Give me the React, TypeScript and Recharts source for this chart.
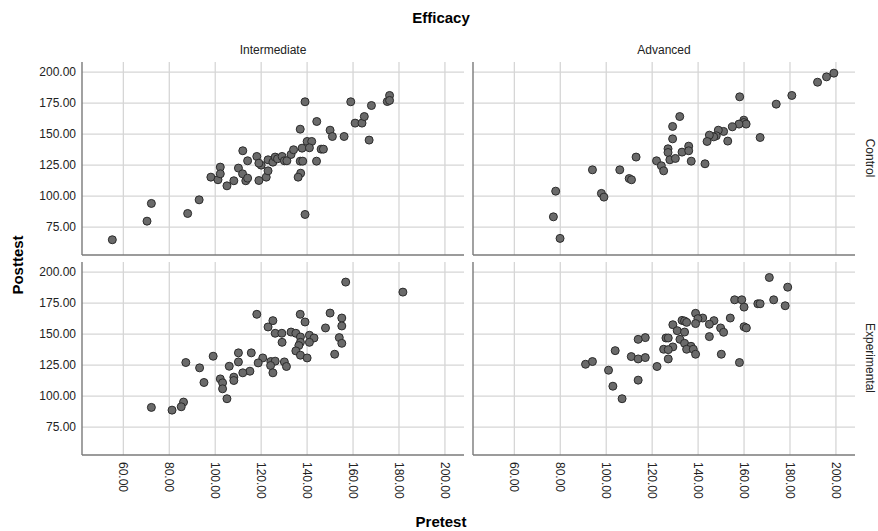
import React from "react";
import {
  ScatterChart,
  Scatter,
  XAxis,
  YAxis,
  ReferenceLine,
} from "recharts";

// Pretest / Posttest pairs per panel
const intermediateControlPre = [
  55.2, 70.3, 72.2, 88, 93, 98.1, 101.2, 102.2, 102.2, 105.1, 108.1, 110.1,
  112, 111.9, 113.3, 114.1, 114.1, 118.1, 119, 120, 119, 122.2, 123, 123,
  125.1, 126.1, 127.1, 129.1, 130.1, 131.2, 133, 134.1, 137, 137.8, 137,
  138.1, 137.2, 136.1, 139.1, 139.1, 140, 142, 141, 144.2, 144.1, 146.1,
  147.1, 150, 151, 156.1, 159, 160.9, 163.9, 164.9, 167, 168, 174.9, 175.9,
  175.9,
];
const intermediateControlPost = [
  64.8, 79.8, 94.1, 86, 97, 115.3, 113.2, 123.4, 118, 108.3, 112.4, 122.6,
  136.6, 118, 112.4, 114.5, 128.5, 132, 112.6, 125, 126.6, 115.3, 120.4,
  129.3, 127.4, 131.5, 130.1, 132, 128.5, 128.5, 133.6, 137.4, 154, 138.7,
  128.2, 128.2, 118.5, 115.3, 176.1, 85.2, 144.1, 144.1, 139, 160.2, 128.2,
  137.9, 137.9, 153.2, 148.1, 148.1, 176.1, 158.9, 158.9, 164.2, 145.2,
  173.1, 176.3, 181.2, 177.2,
];

const advancedControlPre = [
  199.1, 195.9, 192, 180.8, 174, 158.1, 159.9, 159.9, 160.9, 157.8, 154.9,
  167, 151.1, 148.8, 147.9, 146.8, 144.9, 143.9, 152.9, 143, 132, 128.9,
  128.9, 126.9, 126.9, 127.7, 130.1, 133, 135.9, 135.9, 137, 121.9, 124, 125,
  113, 105.9, 110, 111, 94, 97.9, 99, 78, 77, 79.9,
];
const advancedControlPost = [
  199.2, 196.2, 191.9, 181.2, 174.2, 180.1, 161.3, 159.4, 158.1, 158.1, 155.9,
  147.3, 152.2, 153.2, 148.7, 147.8, 149.2, 144.1, 144.4, 126.1, 164.2, 156.2,
  146.2, 138.2, 135.2, 129.3, 130.4, 135.5, 140.3, 136.6, 128.2, 128.5, 124.5,
  120.4, 131.5, 121.2, 114.2, 113.2, 121.2, 102.2, 99.2, 104, 83.3, 65.9,
];

const intermediateExperimentalPre = [
  156.8, 181.7, 118.1, 125.1, 123, 137, 139.1, 150, 155.1, 155.1, 148, 126.1,
  129, 133, 135.1, 137.1, 141, 143, 154, 155.1, 141, 137.1, 136.4, 129.1,
  135.1, 137.1, 140, 152, 120.7, 118.7, 115.7, 110.1, 110.1, 106.1, 124.2,
  126.1, 130.1, 131, 124.1, 125.1, 115.1, 112, 108.1, 108.1, 102.2, 103.2,
  103.2, 105.1, 99.1, 93.2, 87.2, 95.1, 86.2, 85.2, 81.2, 72.2,
];
const intermediateExperimentalPost = [
  192, 183.9, 166, 160.9, 155.8, 166, 159.8, 167, 163, 156.6, 155, 150.7,
  150.7, 151.7, 150.7, 147.7, 149.1, 146.9, 147.2, 142.6, 143.4, 143.4, 140.8,
  143.4, 136.5, 133, 130.8, 133.8, 130.8, 126.8, 134.9, 134.9, 127.6, 124.1,
  127.9, 128.2, 127.6, 123.9, 124.7, 118.8, 120.1, 118.8, 115.3, 112.6, 113.9,
  110.7, 105.9, 97.9, 132.2, 122.8, 127.1, 111, 95.2, 91.4, 88.7, 90.9,
];

const advancedExperimentalPre = [
  171, 179, 172.9, 177.9, 166, 167, 155.9, 159, 160, 154, 146.9, 142, 138.9,
  139.9, 138.9, 144.9, 149.8, 151.1, 160, 161, 144.9, 133, 134.1, 135, 129,
  130.9, 134.1, 132.1, 134.1, 136.9, 135, 137.9, 138.9, 129, 126, 127, 125,
  127, 127, 150.1, 158, 117, 113.9, 103.9, 110.9, 113.9, 117, 122.1, 113.9,
  101, 102.9, 106.9, 91, 94,
];
const advancedExperimentalPost = [
  195.7, 187.9, 177.7, 172.9, 174.5, 174.5, 177.7, 177.7, 171.8, 163, 160.9,
  163, 166.8, 162.5, 158.5, 158, 155, 151.5, 156, 155, 148, 161.1, 160.6,
  159.5, 157.6, 152.8, 151.7, 145.8, 142.6, 140.2, 137.8, 137.8, 133.8, 139.7,
  146.9, 146.9, 137.8, 137.5, 130, 133.8, 127.1, 147.2, 145.8, 136.7, 131.9,
  130, 131.1, 123.9, 112.9, 120.9, 108, 97.9, 125.7, 127.9,
];

const xTicks = [60, 80, 100, 120, 140, 160, 180, 200];
const yTicks = [75, 100, 125, 150, 175, 200];

const FONT = "'Liberation Sans', Arial, sans-serif";
const W = 878;
const H = 531;

const toPoints = (pre: number[], post: number[]) =>
  pre.map((p, i) => ({ pretest: p, posttest: post[i] }));

const Dot = (props: any) => (
  <circle cx={props.cx} cy={props.cy} r={4} fill="#6a6a6a" stroke="#2b2b2b" strokeWidth={1} />
);

const XTick = (props: any) => {
  const { x, y, payload } = props;
  return (
    <text
      x={x}
      y={y}
      transform={`rotate(90, ${x}, ${y})`}
      textAnchor="start"
      dominantBaseline="central"
      fontSize={12}
      fontFamily={FONT}
      fill="#222"
    >
      {Number(payload.value).toFixed(2)}
    </text>
  );
};

interface PanelProps {
  data: { pretest: number; posttest: number }[];
  col: number;
  row: number;
}

const Panel = ({ data, col, row }: PanelProps) => {
  const showY = col === 0;
  const showX = row === 1;
  const plotLeft = col === 0 ? 82 : 473;
  const plotRight = col === 0 ? 464 : 855;
  const plotTop = row === 0 ? 62 : 262;
  const plotBottom = row === 0 ? 255 : 455;
  const yW = showY ? 60 : 0;
  const xH = showX ? 44 : 0;
  return (
    <div style={{ position: "absolute", left: 0, top: 0 }}>
      <ScatterChart
        width={W}
        height={H}
        margin={{
          left: plotLeft - yW,
          right: W - plotRight,
          top: plotTop,
          bottom: H - plotBottom - xH,
        }}
      >
        <XAxis
          type="number"
          dataKey="pretest"
          domain={[42, 208.3]}
          ticks={xTicks}
          allowDataOverflow
          height={xH}
          tick={showX ? <XTick /> : false}
          tickLine={false}
          tickMargin={1}
          axisLine={false}
        />
        <YAxis
          type="number"
          dataKey="posttest"
          domain={[52.5, 208.2]}
          ticks={yTicks}
          allowDataOverflow
          width={yW}
          tick={showY ? { fontSize: 12, fontFamily: FONT, fill: "#222" } : false}
          tickFormatter={(v: number) => v.toFixed(2)}
          tickLine={false}
          tickMargin={0}
          axisLine={false}
        />
        {xTicks.map((v) => (
          <ReferenceLine key={`x${v}`} x={v} stroke="#d6d6d6" strokeWidth={1.3} />
        ))}
        {yTicks.map((v) => (
          <ReferenceLine key={`y${v}`} y={v} stroke="#d6d6d6" strokeWidth={1.3} />
        ))}
        <ReferenceLine x={42} stroke="#7a7a7a" strokeWidth={1.4} />
        <ReferenceLine y={52.5} stroke="#7a7a7a" strokeWidth={1.4} />
        <Scatter data={data} shape={<Dot />} isAnimationActive={false} />
      </ScatterChart>
    </div>
  );
};

const App = () => {
  return (
    <div style={{ position: "absolute", left: 0, top: 0, width: W, height: H, background: "#fff" }}>
      <Panel data={toPoints(intermediateControlPre, intermediateControlPost)} col={0} row={0} />
      <Panel data={toPoints(advancedControlPre, advancedControlPost)} col={1} row={0} />
      <Panel data={toPoints(intermediateExperimentalPre, intermediateExperimentalPost)} col={0} row={1} />
      <Panel data={toPoints(advancedExperimentalPre, advancedExperimentalPost)} col={1} row={1} />
      <svg
        width={W}
        height={H}
        style={{ position: "absolute", left: 0, top: 0, pointerEvents: "none" }}
        fontFamily={FONT}
      >
        <text x={441} y={23} textAnchor="middle" fontSize={15} fontWeight="bold" fill="#000">
          Efficacy
        </text>
        <text x={273} y={54} textAnchor="middle" fontSize={12} fill="#222">
          Intermediate
        </text>
        <text x={664} y={54} textAnchor="middle" fontSize={12} fill="#222">
          Advanced
        </text>
        <text x={441} y={527} textAnchor="middle" fontSize={15} fontWeight="bold" fill="#000">
          Pretest
        </text>
        <text
          x={17}
          y={265}
          transform="rotate(-90, 17, 265)"
          textAnchor="middle"
          dominantBaseline="central"
          fontSize={15}
          fontWeight="bold"
          fill="#000"
        >
          Posttest
        </text>
        <text
          x={870}
          y={158}
          transform="rotate(90, 870, 158)"
          textAnchor="middle"
          dominantBaseline="central"
          fontSize={12}
          fill="#222"
        >
          Control
        </text>
        <text
          x={870}
          y={358}
          transform="rotate(90, 870, 358)"
          textAnchor="middle"
          dominantBaseline="central"
          fontSize={12}
          fill="#222"
        >
          Experimental
        </text>
      </svg>
    </div>
  );
};

export default App;
